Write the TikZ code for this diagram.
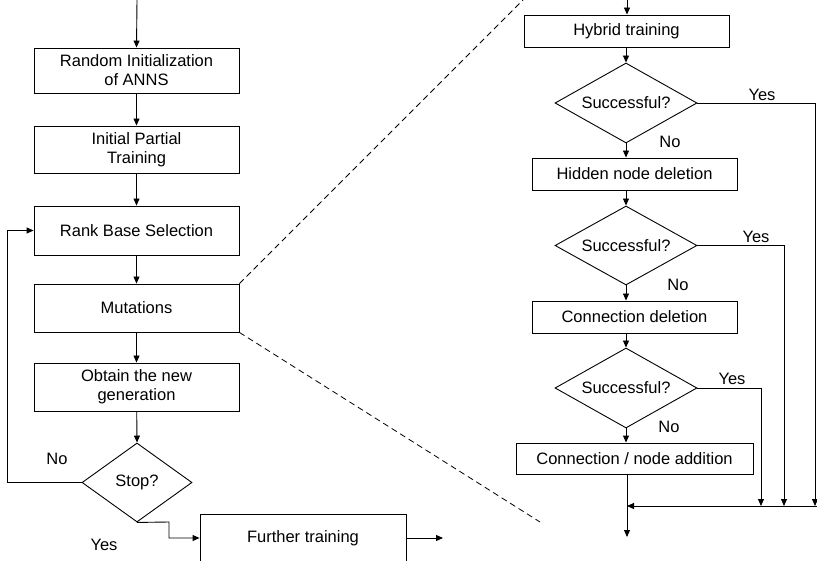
\documentclass[tikz,border=0pt]{standalone}
\usepackage{fontspec}
\setmainfont{Liberation Sans}
\usetikzlibrary{shapes.geometric,arrows.meta}

\begin{document}
\begin{tikzpicture}[x=1pt,y=-1pt,line width=0.9pt,
	>={Triangle[length=7pt,width=6pt]},
	flowbox/.style={draw,rectangle,inner sep=0pt,align=center,
		font=\fontsize{16.5}{19}\selectfont},
	decision/.style={draw,diamond,inner sep=0pt,aspect=1.78,
		minimum width=142pt,minimum height=80pt,
		font=\fontsize{16.5}{19}\selectfont},
	lbl/.style={inner sep=0pt,font=\fontsize{16.5}{19}\selectfont},
	zoomline/.style={dash pattern=on 6pt off 4pt,line width=0.8pt}]
	\useasboundingbox (0,0) rectangle (817,561);
	% left column: main loop
	\coordinate (top) at (137,0);
	\node[flowbox,minimum width=205pt,minimum height=45pt] (init) at (136.5,70.5) {Random Initialization\\of ANNS};
	\node[flowbox,minimum width=205pt,minimum height=47pt] (partial) at (136.5,149.5) {Initial Partial\\Training};
	\node[flowbox,minimum width=205pt,minimum height=49pt] (rank) at (136.5,230.5) {Rank Base Selection};
	\node[flowbox,minimum width=205pt,minimum height=48pt] (mut) at (136.5,308) {Mutations};
	\node[flowbox,minimum width=205pt,minimum height=48pt] (newgen) at (136.5,387) {Obtain the new\\generation};
	\node[decision,minimum width=110pt,minimum height=79pt,aspect=1.39] (stop) at (137,482.5) {Stop?};
	\node[flowbox,minimum width=206pt,minimum height=48pt] (further) at (303,538) {Further training};
	\coordinate (out) at (443,538);
	\draw[->] (top) -- (init.north);
	\draw[->] (init) -- (partial);
	\draw[->] (partial) -- (rank);
	\draw[->] (rank) -- (mut);
	\draw[->] (mut) -- (newgen);
	\draw[->] (newgen) -- (stop.north);
	\draw[->] (stop.west) -- (7,482.5) |- (rank.west);
	\draw[->] (stop.south) -- (169,522) |- (further.west);
	\draw[->] (further.east) -- (out);
	\node[lbl] (no0) at (57,459) {No};
	\node[lbl] (yes0) at (104,545) {Yes};
	% zoom lines
	\draw[zoomline] (mut.north east) -- (523,0);
	\draw[zoomline] (mut.south east) -- (540,522);
	% right column: mutation detail
	\coordinate (rtop) at (627,0);
	\node[flowbox,minimum width=205pt,minimum height=32pt] (hybrid) at (626.5,31) {Hybrid training};
	\node[decision] (dec1) at (626,103) {Successful?};
	\node[flowbox,minimum width=205pt,minimum height=32pt] (hidden) at (634.5,174) {Hidden node deletion};
	\node[decision,minimum height=79pt] (dec2) at (626,245.5) {Successful?};
	\node[flowbox,minimum width=205pt,minimum height=32pt] (conndel) at (634.5,317) {Connection deletion};
	\node[decision] (dec3) at (626,388) {Successful?};
	\node[flowbox,minimum width=237pt,minimum height=31pt] (addn) at (634.5,458.5) {Connection / node addition};
	\coordinate (merge) at (627,506);
	\coordinate (mergeR) at (817,506);
	\coordinate (exit) at (627,537);
	\draw[->] (rtop) -- (rtop |- hybrid.north);
	\draw[->] (hybrid.south -| dec1.north) -- (dec1.north);
	\draw[->] (dec1.south) -- (dec1.south |- hidden.north);
	\draw[->] (dec1.south |- hidden.south) -- (dec2.north);
	\draw[->] (dec2.south) -- (dec2.south |- conndel.north);
	\draw[->] (dec2.south |- conndel.south) -- (dec3.north);
	\draw[->] (dec3.south) -- (dec3.south |- addn.north);
	\draw[->] (merge |- addn.south) -- (exit);
	\draw[->] (dec1.east) -- (815,103) -- (815,506);
	\draw[->] (dec2.east) -- (784,245.5) -- (784,506);
	\draw[->] (dec3.east) -- (761,388) -- (761,506);
	\draw[->] (mergeR) -- (merge);
	\node[lbl] (yes1) at (762,95) {Yes};
	\node[lbl] (yes2) at (756,237) {Yes};
	\node[lbl] (yes3) at (732,379) {Yes};
	\node[lbl] (no1) at (670,142) {No};
	\node[lbl] (no2) at (678,285) {No};
	\node[lbl] (no3) at (669,427) {No};
\end{tikzpicture}
\end{document}
